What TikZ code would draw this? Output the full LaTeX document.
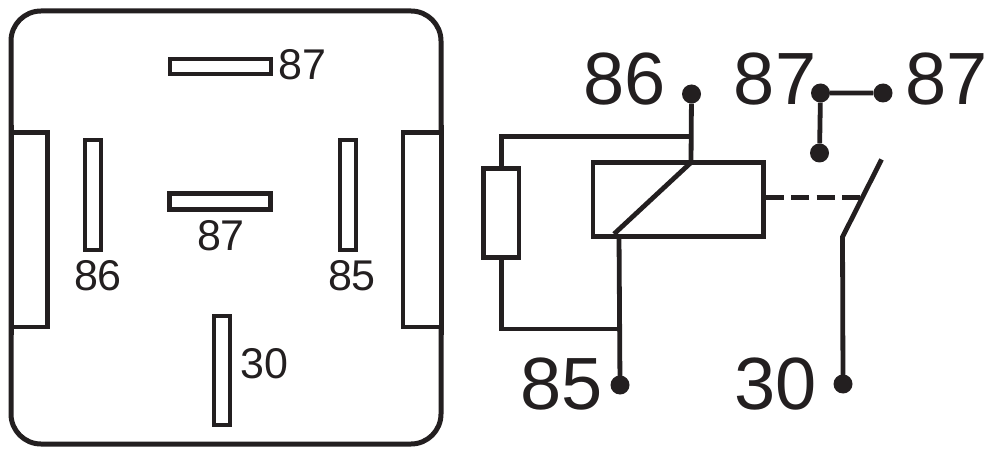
\documentclass[tikz,border=0pt]{standalone}
\usepackage{fontspec}
\setmainfont{Liberation Sans}
\definecolor{ink}{HTML}{231F20}
\tikzset{
 pin/.style={draw=ink,line width=4pt,fill=white},
 lbl/.style={text=ink,font=\fontsize{43}{43}\selectfont,inner sep=0pt},
 big/.style={text=ink,font=\fontsize{74}{74}\selectfont,inner sep=0pt},
 wire/.style={draw=ink,line width=4.8pt,line join=miter},
 box/.style={draw=ink,line width=4.8pt,rectangle,inner sep=0pt,minimum width=#1},
 dot/.style={circle,fill=ink,minimum size=19pt,inner sep=0pt},
}
\begin{document}
\begin{tikzpicture}[x=1pt,y=-1pt]
\useasboundingbox (0,0) rectangle (1000,462);
\draw[draw=ink,line width=5pt,rounded corners=30pt] (11,11) rectangle (441,444);
\path[pin,line width=4.5pt] (11,132.5) rectangle (47.5,327);
\path[pin,line width=4.5pt] (403,132.5) rectangle (441,327);
\draw[draw=ink,line width=5pt] (11,125) -- (11,335);
\draw[draw=ink,line width=5pt] (441,125) -- (441,335);
\path[pin] (169.5,59) rectangle (270.5,74);
\path[pin,line width=4.5pt] (169.5,193.5) rectangle (270.5,209.5);
\path[pin] (84.5,140.5) rectangle (100.5,249.5);
\path[pin] (340,140.5) rectangle (356,249.5);
\path[pin] (214,316) rectangle (230,425);
\node[lbl,anchor=west] (t1) at (278,65) {87};
\node[lbl] (t2) at (221,236) {87};
\node[lbl] (t3) at (98,276) {86};
\node[lbl] (t4) at (352,276) {85};
\node[lbl,anchor=west] (t5) at (240,364) {30};
\node[big] (b86) at (625,79) {86};
\node[big] (b87a) at (775,79) {87};
\node[big] (b87b) at (946.5,79) {87};
\node[big] (b85) at (561.5,384) {85};
\node[big] (b30) at (775.5,384) {30};
\node[box=170.5pt,minimum height=74pt] (coil) at (678.25,199.5) {};
\node[box=35.5pt,minimum height=88.5pt] (fuse) at (501.25,213) {};
\node[dot] (d86) at (691.5,94) {};
\node[dot] (d87a) at (820.5,93) {};
\node[dot] (d87b) at (883,93) {};
\node[dot] (d87c) at (819.5,153) {};
\node[dot] (d85) at (620,385) {};
\node[dot] (d30) at (843,384) {};
\coordinate (diagTop) at (691,162.5);
\coordinate (diagBot) at (614,234);
\coordinate (cTop) at (691.5,136.5);
\coordinate (cBot) at (619,329);
\coordinate (knee) at (842.5,237);
\coordinate (swTop) at (881.5,159.5);
\coordinate (dashStart) at (765.5,197.5);
\coordinate (dashEnd) at (860,197.5);
\draw[wire] (d86) -- (diagTop);
\draw[wire] (d87b) -- (d87a) -- (d87c);
\draw[wire] (cTop) -| (fuse.north);
\draw[wire] (fuse.south) |- (cBot);
\draw[wire] (d85.center) -- (619,236);
\draw[wire] (diagTop) -- (diagBot);
\draw[wire,dash pattern=on 18pt off 7.5pt] (dashStart) -- (dashEnd);
\draw[wire] (d30.center) -- (knee) -- (swTop);
\end{tikzpicture}
\end{document}
